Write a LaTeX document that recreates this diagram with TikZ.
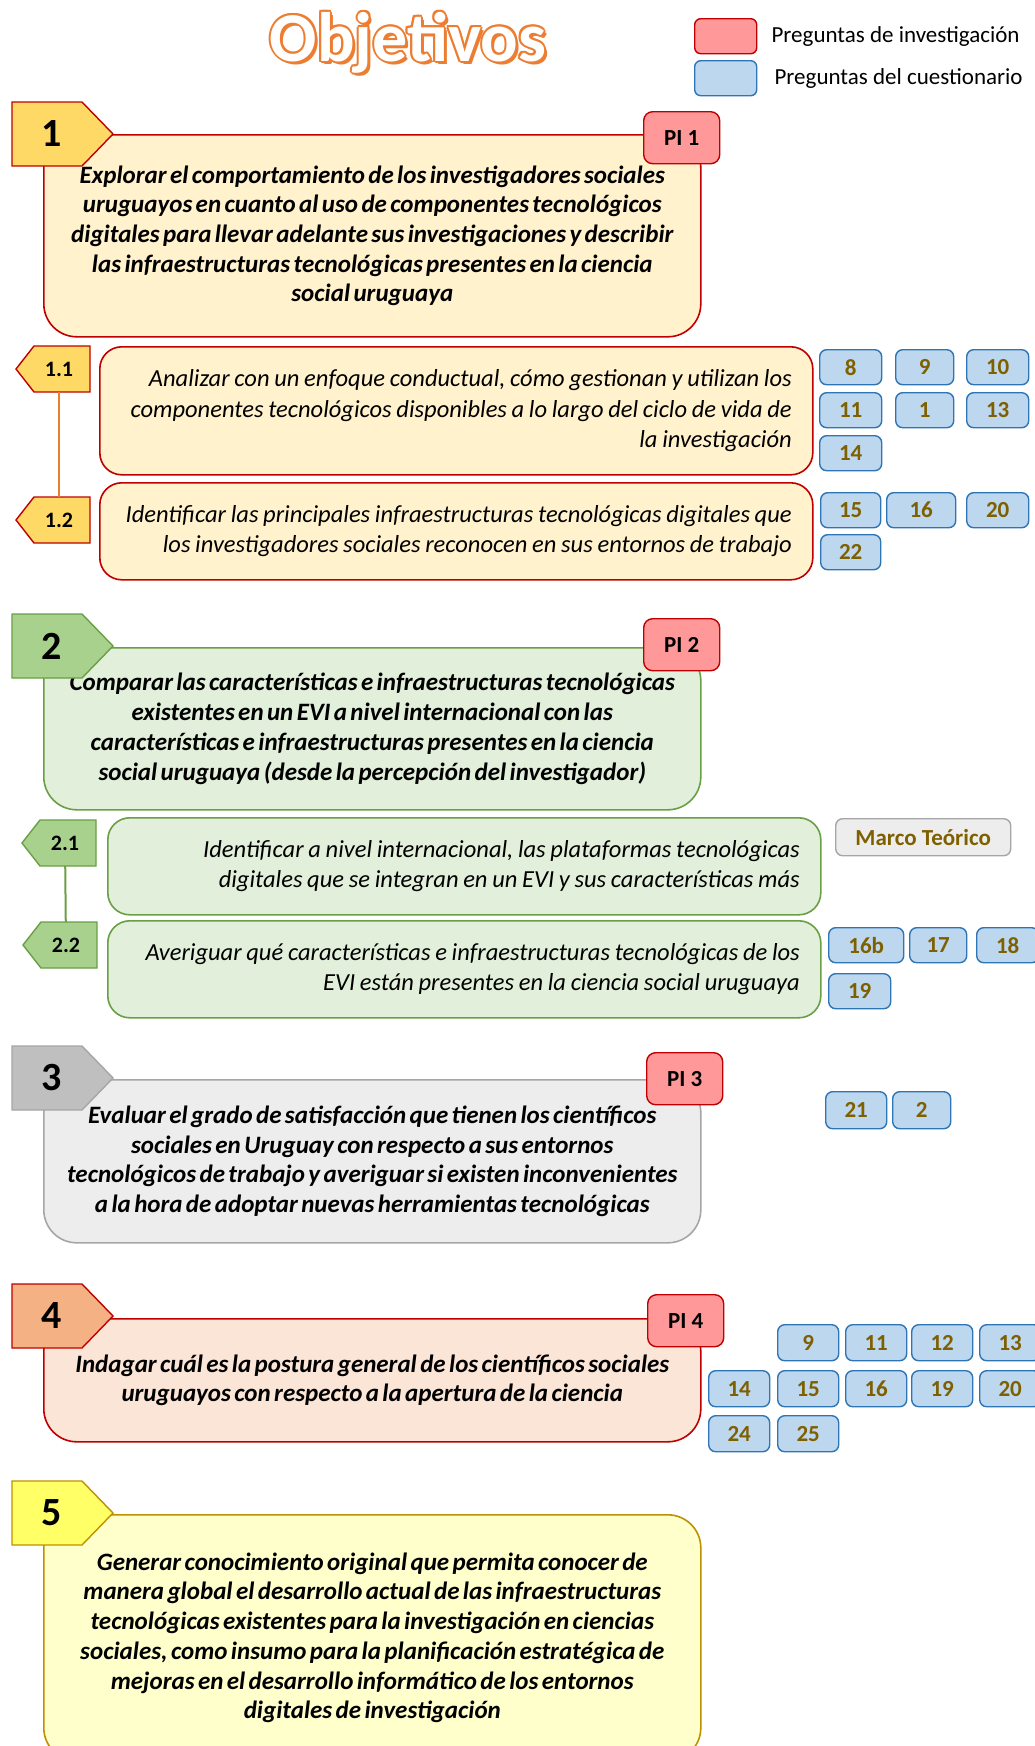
\documentclass[tikz,border=0pt]{standalone}
\usepackage{fontspec}
\setmainfont{Carlito}
\usetikzlibrary{calc,positioning}

\definecolor{redline}{HTML}{C00000}
\definecolor{goldfill}{HTML}{FFF2CC}
\definecolor{goldtag}{HTML}{FFD966}
\definecolor{pifill}{HTML}{FF9999}
\definecolor{qfill}{HTML}{BDD7EE}
\definecolor{qline}{HTML}{2E75B6}
\definecolor{numtext}{HTML}{7F6000}
\definecolor{greenfill}{HTML}{E2EFDA}
\definecolor{greentag}{HTML}{A9D18E}
\definecolor{greenline}{HTML}{6A9F45}
\definecolor{greyfill}{HTML}{EDEDED}
\definecolor{greytag}{HTML}{BFBFBF}
\definecolor{greyline}{HTML}{A6A6A6}
\definecolor{peachfill}{HTML}{FBE5D6}
\definecolor{peachtag}{HTML}{F4B183}
\definecolor{yellowfill}{HTML}{FFFFCC}
\definecolor{yellowtag}{HTML}{FFFF66}
\definecolor{yellowline}{HTML}{BF9000}
\definecolor{titleorange}{HTML}{ED7D31}

% tight word spacing, as in the original slide
\newcommand{\tightspace}[1]{\spaceskip=#1\fontdimen2\font plus 0.1\fontdimen2\font minus 0.05\fontdimen2\font}
\newcommand{\goalfont}{\fontsize{25}{29.7}\selectfont\bfseries\itshape\tightspace{0.6}}
\newcommand{\subfont}{\fontsize{24.5}{30.5}\selectfont\itshape\tightspace{0.85}}
\newcommand{\tagfont}{\fontsize{40}{40}\selectfont\bfseries}
\newcommand{\subtagfont}{\fontsize{22}{22}\selectfont\bfseries}
\newcommand{\pifont}{\fontsize{23}{23}\selectfont\bfseries}
\newcommand{\qfont}{\fontsize{23}{23}\selectfont\bfseries}
\newcommand{\legendfont}{\fontsize{23}{23}\selectfont}
\newcommand{\titlefont}{\fontsize{70}{70}\selectfont\bfseries}

% numbered flag pointing right: name, top-left, colours, number
\newcommand{\goaltag}[4]{
    \draw[#3, line width=1.4pt] (#2) -- ++(70,0) -- ++(31,32) -- ++(-31,32) -- ++(-70,0) -- cycle;
    \node[tagnum] (#1) at ($(#2)+(40,32)$) {#4};
}
% numbered flag pointing left: name, top-right, colours, number
\newcommand{\subtag}[4]{
    \draw[#3, line width=1.4pt] (#2) -- ++(-56,0) -- ++(-18,23) -- ++(18,23) -- ++(56,0) -- cycle;
    \node[subnum] (#1) at ($(#2)+(-31,23)$) {#4};
}

\begin{document}
\begin{tikzpicture}[x=1pt,y=-1pt,
    goal/.style 2 args={draw=#1, fill=#2, line width=1.6pt, rounded corners=33pt, anchor=north west,
        inner sep=0pt, align=center, font=\goalfont, minimum width=657pt},
    subgoal/.style 2 args={draw=#1, fill=#2, line width=1.6pt, rounded corners=22pt, anchor=north west,
        inner xsep=21pt, inner ysep=0pt, align=flush right, font=\subfont, text width=671pt},
    tagnum/.style={minimum width=56pt, minimum height=64pt, inner sep=0pt, font=\tagfont},
    subnum/.style={minimum width=50pt, minimum height=46pt, inner sep=0pt, font=\subtagfont},
    pibox/.style={draw=redline, fill=pifill, line width=1.4pt, rounded corners=9pt, anchor=north west,
        minimum width=76pt, minimum height=52pt, inner sep=0pt, font=\pifont},
    qbox/.style={draw=qline, fill=qfill, line width=1.4pt, rounded corners=7pt, anchor=north west,
        minimum height=35pt, inner sep=0pt, text=numtext, font=\qfont},
    legendbox/.style={line width=1.4pt, rounded corners=6pt, anchor=north west,
        minimum width=62pt, minimum height=35pt, inner sep=0pt},
    legendtext/.style={font=\legendfont, inner sep=0pt},
    titletext/.style={font=\titlefont, inner sep=0pt, anchor=base},
    link/.style={draw=#1, line width=2pt}]

\useasboundingbox (0,0) rectangle (1035,1746);
\fill[white] (0,0) rectangle (1035,1746);

% title with outline and shadow
\node[titletext, text=titleorange] (shadow) at (411,64) {Objetivos};
\foreach \a in {0,45,...,315} {
    \node[titletext, text=titleorange] (outline\a) at ($(408,61)+(\a:2)$) {Objetivos};
}
\node[titletext, text=white] (title) at (408,61) {Objetivos};

% legend
\node[legendbox, draw=redline, fill=pifill] (legpi) at (694,18) {};
\node[legendbox, draw=qline, fill=qfill] (legq) at (694,60) {};
\node[legendtext, right=14pt of legpi] (legpitext) {Preguntas de investigación};
\node[legendtext, right=17pt of legq] (legqtext) {Preguntas del cuestionario};

% objective 1
\node[goal={redline}{goldfill}, minimum height=202pt] (g1) at (43,134) {
    Explorar el comportamiento de los investigadores sociales\\
    uruguayos en cuanto al uso de componentes tecnológicos\\
    digitales para llevar adelante sus investigaciones y describir\\
    las infraestructuras tecnológicas presentes en la ciencia\\
    social uruguaya};
\goaltag{t1}{12,102}{draw=redline, fill=goldtag}{1}
\node[pibox] (pi1) at (643,111) {PI 1};

\node[subgoal={redline}{goldfill}, minimum height=128pt] (g11) at (99,346) {
    Analizar con un enfoque conductual, cómo gestionan y utilizan los\\
    componentes tecnológicos disponibles a lo largo del ciclo de vida de\\
    la investigación};
\node[subgoal={redline}{goldfill}, minimum height=97pt] (g12) at (99,482) {
    Identificar las principales infraestructuras tecnológicas digitales que\\
    los investigadores sociales reconocen en sus entornos de trabajo};
\subtag{t11}{90,346}{draw=redline, fill=goldtag}{1.1}
\subtag{t12}{90,497}{draw=redline, fill=goldtag}{1.2}
\draw[link=titleorange] (t11) -- (t12);

\foreach \q/\x/\y/\w in {8/819/349/62, 9/895/349/58, 10/966/349/62,
        11/819/392/62, 1/895/392/58, 13/966/392/62, 14/819/435/62,
        15/820/492/60, 16/886/492/69, 20/966/492/62, 22/820/534/60} {
    \node[qbox, minimum width=\w pt] (qa\q) at (\x,\y) {\q};
}

% objective 2
\node[goal={greenline}{greenfill}, minimum height=162pt] (g2) at (43,647) {
    Comparar las características e infraestructuras tecnológicas\\
    existentes en un EVI a nivel internacional con las\\
    características e infraestructuras presentes en la ciencia\\
    social uruguaya (desde la percepción del investigador)};
\goaltag{t2}{12,614}{draw=greenline, fill=greentag}{2}
\node[pibox] (pi2) at (643,618) {PI 2};

\node[subgoal={greenline}{greenfill}, minimum height=97pt] (g21) at (107,817) {
    Identificar a nivel internacional, las plataformas tecnológicas\\
    digitales que se integran en un EVI y sus características más};
\node[subgoal={greenline}{greenfill}, minimum height=97pt] (g22) at (107,920) {
    Averiguar qué características e infraestructuras tecnológicas de los\\
    EVI están presentes en la ciencia social uruguaya};
\subtag{t21}{96,820}{draw=greenline, fill=greentag}{2.1}
\subtag{t22}{97,922}{draw=greenline, fill=greentag}{2.2}
\draw[link=greenline] (t21) -- (t22);

\node[qbox, draw=greyline, fill=greyfill, minimum width=175pt, minimum height=37pt] (marco) at (835,818) {Marco Teórico};
\foreach \q/\x/\y/\w in {16b/828/927/75, 17/909/927/57, 18/976/927/62, 19/828/973/62} {
    \node[qbox, minimum width=\w pt] (qb\q) at (\x,\y) {\q};
}

% objective 3
\node[goal={greyline}{greyfill}, minimum height=163pt] (g3) at (43,1079) {
    Evaluar el grado de satisfacción que tienen los científicos\\
    sociales en Uruguay con respecto a sus entornos\\
    tecnológicos de trabajo y averiguar si existen inconvenientes\\
    a la hora de adoptar nuevas herramientas tecnológicas};
\goaltag{t3}{12,1046}{draw=greyline, fill=greytag}{3}
\node[pibox] (pi3) at (646,1052) {PI 3};

\foreach \q/\x/\y/\w in {21/825/1091/61, 2/892/1091/58} {
    \node[qbox, minimum width=\w pt, minimum height=37pt] (qc\q) at (\x,\y) {\q};
}

% objective 4
\node[goal={redline}{peachfill}, minimum height=123pt] (g4) at (43,1318) {
    Indagar cuál es la postura general de los científicos sociales\\
    uruguayos con respecto a la apertura de la ciencia};
\goaltag{t4}{12,1284}{draw=redline, fill=peachtag}{4}
\node[pibox] (pi4) at (647,1294) {PI 4};

\foreach \q/\x/\y in {9/777/1324, 11/845/1324, 12/911/1324, 13/979/1324,
        14/708/1370, 15/777/1370, 16/845/1370, 19/911/1370, 20/979/1370,
        24/708/1415, 25/777/1415} {
    \node[qbox, minimum width=61pt, minimum height=36pt] (qd\q) at (\x,\y) {\q};
}

% objective 5
\node[goal={yellowline}{yellowfill}, minimum height=246pt] (g5) at (43,1514) {
    Generar conocimiento original que permita conocer de\\
    manera global el desarrollo actual de las infraestructuras\\
    tecnológicas existentes para la investigación en ciencias\\
    sociales, como insumo para la planificación estratégica de\\
    mejoras en el desarrollo informático de los entornos\\
    digitales de investigación};
\goaltag{t5}{12,1481}{draw=yellowline, fill=yellowtag}{5}

\end{tikzpicture}
\end{document}
